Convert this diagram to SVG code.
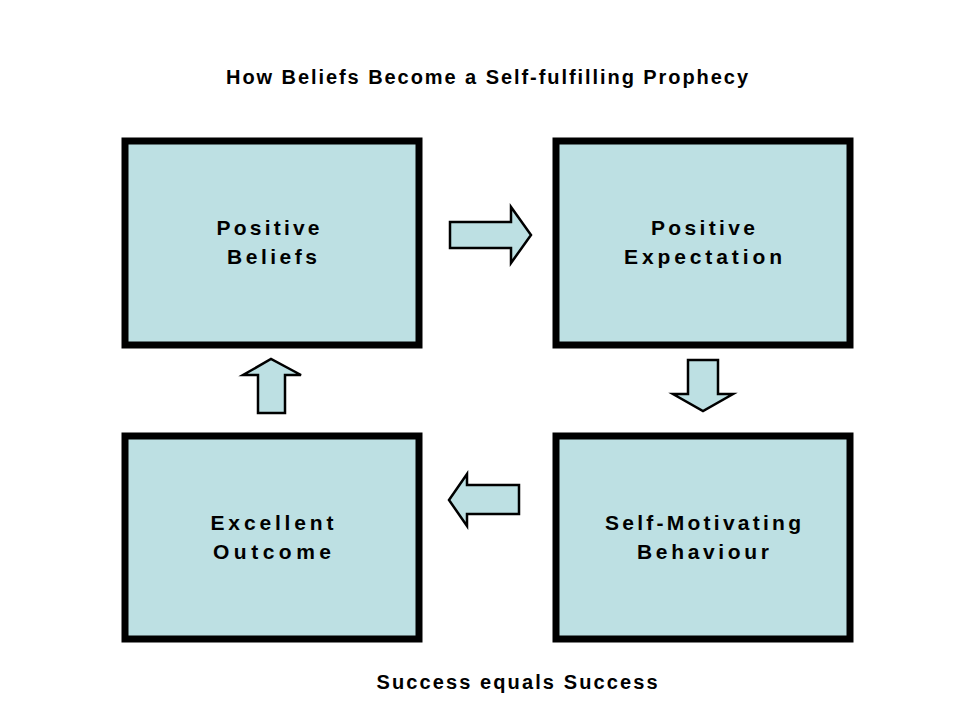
<svg xmlns="http://www.w3.org/2000/svg" width="960" height="720" viewBox="0 0 960 720">
<style>
.box{fill:#BDE0E3;stroke:#000;stroke-width:7}
.arr{fill:#BDE0E3;stroke:#000;stroke-width:2.5;stroke-linejoin:miter}
text{font-family:"Liberation Sans",Arial,sans-serif;font-weight:bold;fill:#000;text-anchor:middle}
.lbl{font-size:21px}
.t{font-size:20px}
</style>
<rect width="960" height="720" fill="#fff"/>
<text class="t" x="487" y="84" textLength="522" lengthAdjust="spacing">How Beliefs Become a Self-fulfilling Prophecy</text>
<g id="n1"><rect class="box" x="125" y="141" width="294" height="204"/><text class="lbl" x="268" y="235" textLength="103" lengthAdjust="spacing">Positive</text><text class="lbl" x="272" y="264" textLength="90" lengthAdjust="spacing">Beliefs</text></g>
<g id="n2"><rect class="box" x="556" y="141" width="294" height="204"/><text class="lbl" x="703" y="235" textLength="104" lengthAdjust="spacing">Positive</text><text class="lbl" x="703" y="264" textLength="158" lengthAdjust="spacing">Expectation</text></g>
<g id="n3"><rect class="box" x="556" y="436" width="294" height="203"/><text class="lbl" x="703" y="530" textLength="196" lengthAdjust="spacing">Self-Motivating</text><text class="lbl" x="703" y="559" textLength="132" lengthAdjust="spacing">Behaviour</text></g>
<g id="n4"><rect class="box" x="125" y="436" width="294" height="203"/><text class="lbl" x="272" y="530" textLength="123" lengthAdjust="spacing">Excellent</text><text class="lbl" x="272" y="559" textLength="118" lengthAdjust="spacing">Outcome</text></g>
<g id="connectors">
<polygon class="arr" points="450,222 511,222 511,207 531,235 511,263 511,248 450,248"/>
<polygon class="arr" points="688,360 718,360 718,394 733,394 703,411 673,394 688,394"/>
<polygon class="arr" points="519,485 467,485 467,474 449,500 467,526 467,514 519,514"/>
<polygon class="arr" points="258,413 285,413 285,375 301,375 271,359 243,375 258,375"/>
</g>
<text class="t" x="517" y="689" textLength="281" lengthAdjust="spacing">Success equals Success</text>
</svg>
